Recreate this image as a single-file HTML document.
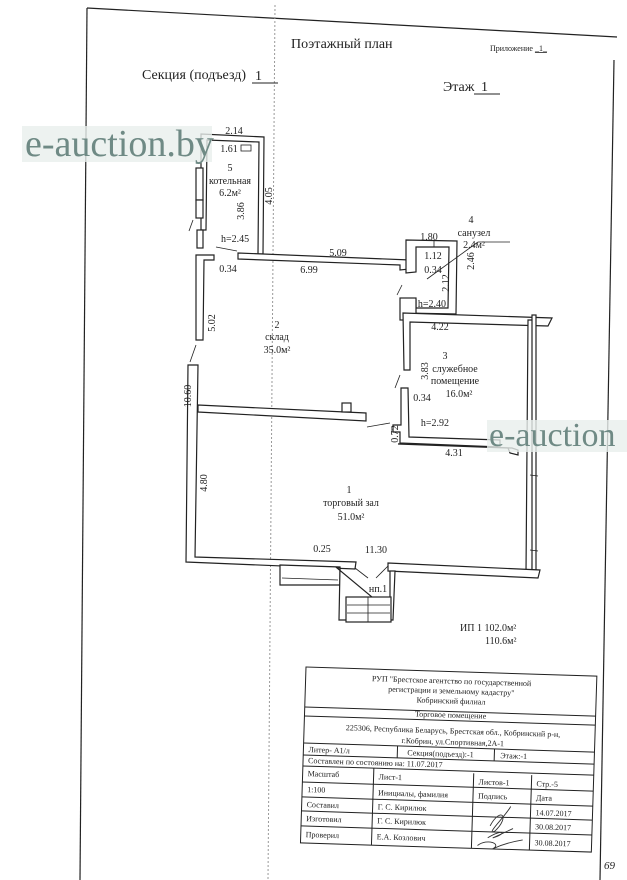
<!DOCTYPE html>
<html><head><meta charset="utf-8"><style>
html,body{margin:0;padding:0;background:#fff}
svg{display:block}
text{font-family:"Liberation Serif","DejaVu Serif",serif;fill:#222}
</style></head><body>
<svg width="627" height="880" viewBox="0 0 627 880" xmlns="http://www.w3.org/2000/svg">
<rect width="627" height="880" fill="#fff"/>
<g stroke="#222" stroke-width="1.2" fill="none">
<line x1="87" y1="8" x2="617" y2="37"/>
<line x1="87" y1="8" x2="80" y2="880"/>
<line x1="614" y1="60" x2="600" y2="880"/>
</g>
<line x1="275" y1="5" x2="268" y2="880" stroke="#999" stroke-width="1" stroke-dasharray="2,2"/>
<text x="291" y="48" font-size="14">Поэтажный план</text>
<text x="490" y="51" font-size="8">Приложение <tspan text-decoration="underline">_1_</tspan></text>
<text x="142" y="79" font-size="14">Секция (подъезд)</text>
<text x="255" y="80" font-size="14">1</text><line x1="252" y1="83" x2="278" y2="83" stroke="#222"/>
<text x="443" y="91" font-size="14">Этаж</text><text x="481" y="91" font-size="14">1</text><line x1="474" y1="94" x2="500" y2="94" stroke="#222"/>

<g fill="#fff" stroke="#222" stroke-width="1.2">
<polygon points="201,134 264,137 263,254 258,254 259,142 207,140 206,230 201,230"/>
<rect x="196" y="168" width="7" height="32"/>
<rect x="196" y="200" width="7" height="18"/>
<polygon points="238,253 410,260 410,269 400,270 400,265 238,259"/>
<polygon points="199,255 214,255 214,260 204,260 203,340 196,340 196,255"/>
<rect x="197" y="230" width="6" height="18"/>
<polygon points="193,365 198,365 195,557 356,562 355,569 186,562 188,365"/>
<polygon points="198,405 366,413 366,421 198,412"/>
<rect x="342" y="403" width="9" height="9"/>
<polygon points="406,240 457,241 456,314 403,313 403,300 416,300 416,308 448,308 449,247 416,247 416,272 406,273"/>
<rect x="400" y="298" width="16" height="22"/>
<polygon points="403,313 552,318 548,326 410,322 410,370 404,370"/>
<polygon points="401,388 408,388 409,437 500,440 500,447 400,443 400,432 393,432 393,425 401,425"/>
<polygon points="398,444 508,448 510,453 518,455 518,450 512,448"/>
<polygon points="528,320 534,320 532,573 526,573"/>
<rect x="532" y="315" width="4" height="260"/>
<polygon points="388,563 540,570 538,578 388,571"/>
<polygon points="280,565 340,567 340,585 280,585"/>
<polygon points="337,568 340,568 339,620 393,620 395,571 390,571 390,612"/>
<rect x="346" y="597" width="45" height="25"/>
</g>
<g stroke="#222" stroke-width="0.8" fill="none">
<line x1="282" y1="578" x2="338" y2="580"/>
<line x1="347" y1="605" x2="390" y2="605"/><line x1="347" y1="613" x2="390" y2="613"/><line x1="368" y1="597" x2="368" y2="622"/>
<line x1="355" y1="568" x2="368" y2="578"/><line x1="388" y1="566" x2="376" y2="578"/>
<line x1="193" y1="220" x2="189" y2="231"/>
<line x1="216" y1="247" x2="237" y2="251"/>
<line x1="196" y1="345" x2="190" y2="362"/>
<line x1="402" y1="285" x2="397" y2="295"/>
<line x1="400" y1="375" x2="395" y2="388"/>
<line x1="367" y1="427" x2="390" y2="423"/>
<line x1="423" y1="247" x2="430" y2="247"/>
<line x1="434" y1="240" x2="434" y2="247"/>
<line x1="427" y1="279" x2="478" y2="242"/><line x1="478" y1="242" x2="510" y2="242"/>
<line x1="530" y1="475" x2="538" y2="476"/><line x1="530" y1="550" x2="538" y2="551"/>
<rect x="241" y="145" width="10" height="6"/>
</g>
<g font-size="10" text-anchor="middle">
<text x="234" y="134">2.14</text>
<text x="229" y="152">1.61</text>
<text x="230" y="171">5</text>
<text x="230" y="184">котельная</text>
<text x="230" y="196">6.2м²</text>
<text x="240" y="215" transform="rotate(-90 240 211)">3.86</text>
<text x="268" y="200" transform="rotate(-90 268 196)">4.05</text>
<text x="221" y="242" text-anchor="start">h=2.45</text>
<text x="228" y="272">0.34</text>
<text x="338" y="256">5.09</text>
<text x="309" y="273">6.99</text>
<text x="429" y="240">1.80</text>
<text x="433" y="259">1.12</text>
<text x="433" y="273">0.34</text>
<text x="445" y="287" transform="rotate(-90 445 283)">2.12</text>
<text x="470" y="265" transform="rotate(-90 470 261)">2.46</text>
<text x="432" y="307">h=2.40</text>
<text x="471" y="223">4</text>
<text x="474" y="236">санузел</text>
<text x="474" y="248">2.4м²</text>
<text x="277" y="328">2</text>
<text x="277" y="340">склад</text>
<text x="277" y="353">35.0м²</text>
<text x="211" y="327" transform="rotate(-90 211 323)">5.02</text>
<text x="187" y="400" transform="rotate(-90 187 396)">10.60</text>
<text x="440" y="330">4.22</text>
<text x="445" y="359">3</text>
<text x="455" y="372">служебное</text>
<text x="455" y="384">помещение</text>
<text x="459" y="397">16.0м²</text>
<text x="424" y="375" transform="rotate(-90 424 371)">3.83</text>
<text x="422" y="401">0.34</text>
<text x="435" y="426">h=2.92</text>
<text x="394" y="438" transform="rotate(-90 394 434)">0.72</text>
<text x="454" y="456">4.31</text>
<text x="203" y="487" transform="rotate(-90 203 483)">4.80</text>
<text x="349" y="493">1</text>
<text x="351" y="506">торговый зал</text>
<text x="351" y="520">51.0м²</text>
<text x="322" y="552">0.25</text>
<text x="376" y="553">11.30</text>
<text x="378" y="592">нп.1</text>
<text x="460" y="631" text-anchor="start">ИП 1  102.0м²</text>
<text x="485" y="644" text-anchor="start">110.6м²</text>
</g>
<!-- title block -->
<g transform="rotate(1.8 306 667)">
<g stroke="#222" stroke-width="1" fill="none">
<rect x="306" y="667" width="291" height="176"/>
<line x1="306" y1="707" x2="597" y2="707"/>
<line x1="306" y1="716" x2="597" y2="716"/>
<line x1="306" y1="743" x2="597" y2="743"/>
<line x1="306" y1="755" x2="597" y2="755"/>
<line x1="306" y1="766" x2="597" y2="766"/>
<line x1="306" y1="782" x2="597" y2="782"/>
<line x1="306" y1="797" x2="597" y2="797"/>
<line x1="306" y1="811" x2="597" y2="811"/>
<line x1="306" y1="826" x2="597" y2="826"/>
<line x1="400" y1="743" x2="400" y2="755"/>
<line x1="497" y1="743" x2="497" y2="755"/>
<line x1="377" y1="766" x2="377" y2="843"/>
<line x1="477" y1="768" x2="477" y2="843"/>
<line x1="535" y1="768" x2="535" y2="843"/>
</g>
<g font-size="8">
<text x="452" y="679" text-anchor="middle">РУП "Брестское агентство по государственной</text>
<text x="452" y="689" text-anchor="middle">регистрации и земельному кадастру"</text>
<text x="452" y="699" text-anchor="middle">Кобринский филиал</text>
<text x="452" y="713" text-anchor="middle">Торговое помещение</text>
<text x="455" y="729" text-anchor="middle">225306,  Республика Беларусь, Брестская обл., Кобринский р-н,</text>
<text x="455" y="740" text-anchor="middle">г.Кобрин, ул.Спортивная,2А-1</text>
<text x="311" y="752">Литер- А1/л</text>
<text x="410" y="752">Секция(подъезд):-1</text>
<text x="503" y="752">Этаж:-1</text>
<text x="311" y="763">Составлен по состоянию на: 11.07.2017</text>
<text x="311" y="776">Масштаб</text>
<text x="382" y="777">Лист-1</text>
<text x="482" y="779">Листов-1</text>
<text x="540" y="779">Стр.-5</text>
<text x="311" y="792">1:100</text>
<text x="382" y="793">Инициалы, фамилия</text>
<text x="482" y="793">Подпись</text>
<text x="540" y="793">Дата</text>
<text x="311" y="807">Составил</text>
<text x="382" y="807">Г. С. Кирилюк</text>
<text x="540" y="808">14.07.2017</text>
<text x="311" y="821">Изготовил</text>
<text x="382" y="821">Г. С. Кирилюк</text>
<text x="540" y="822">30.08.2017</text>
<text x="311" y="837">Проверил</text>
<text x="382" y="837">Е.А. Козлович</text>
<text x="540" y="838">30.08.2017</text>
</g>
<g stroke="#333" stroke-width="0.9" fill="none">
<path d="M495,820 c10,-20 20,-10 5,5 c-10,5 10,-15 15,-25"/>
<path d="M493,832 c15,-10 20,-5 5,0 l20,-10"/>
<path d="M483,840 c10,-8 25,-2 15,3 c10,-5 20,-8 30,-10"/>
</g>
</g>
<text x="604" y="869" font-size="11" font-style="italic">69</text>
<rect x="22" y="126" width="190" height="36" fill="#e8efec" opacity="0.8"/>
<text x="25" y="156" font-size="38" style="fill:#6f8a85">e-auction.by</text>
<rect x="487" y="420" width="140" height="32" fill="#e8efec" opacity="0.8"/>
<text x="489" y="446" font-size="34" style="fill:#6f8a85">e-auction</text>
</svg>
</body></html>
